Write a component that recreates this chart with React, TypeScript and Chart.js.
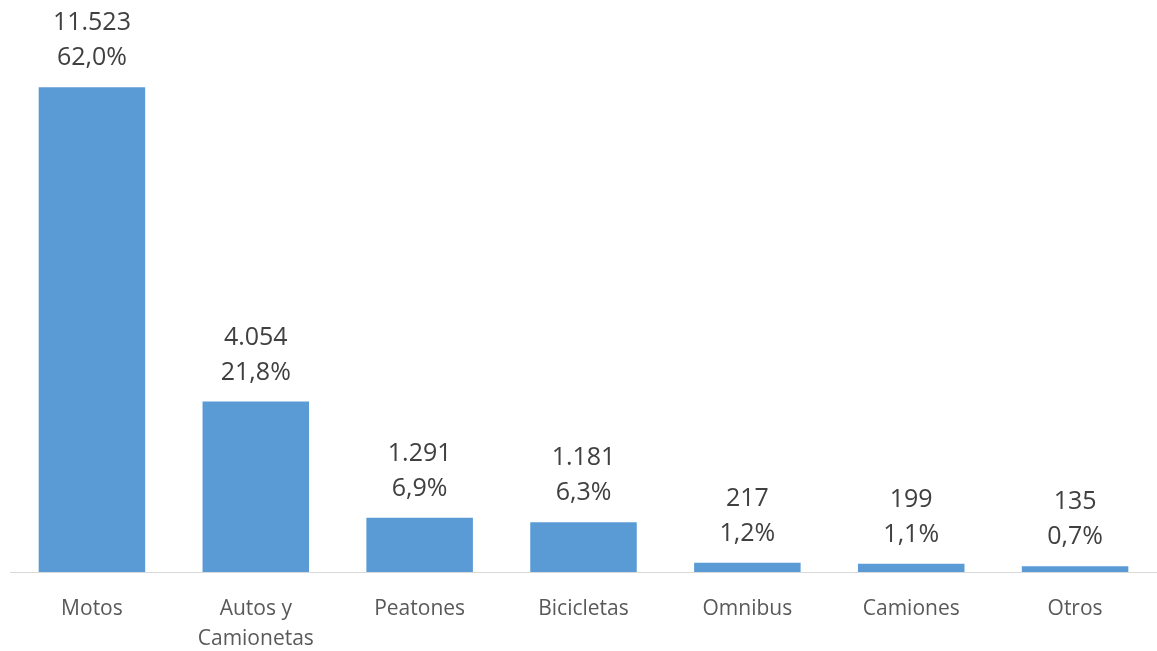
import React, { useEffect, useRef } from "react";
import { Chart, registerables } from "chart.js";

Chart.register(...registerables);

const categories: (string | string[])[] = [
  "Motos",
  ["Autos y", "Camionetas"],
  "Peatones",
  "Bicicletas",
  "Omnibus",
  "Camiones",
  "Otros",
];
const values: number[] = [11523, 4054, 1291, 1181, 217, 199, 135];
const percents: string[] = ["62,0%", "21,8%", "6,9%", "6,3%", "1,2%", "1,1%", "0,7%"];

const fmt = (v: number) => v.toString().replace(/\B(?=(\d{3})+(?!\d))/g, ".");

const labelPlugin = {
  id: "twoLineLabels",
  afterDatasetsDraw(chart: any) {
    const ctx = chart.ctx;
    const meta = chart.getDatasetMeta(0);
    ctx.save();
    ctx.fillStyle = "#404040";
    ctx.font = "25px 'Open Sans'";
    ctx.textAlign = "center";
    ctx.textBaseline = "middle";
    meta.data.forEach((bar: any, i: number) => {
      const x = bar.x;
      const y = bar.y;
      ctx.fillText(fmt(values[i]), x, y - 64);
      ctx.fillText(percents[i], x, y - 29);
    });
    ctx.restore();
  },
};

export default function App() {
  const ref = useRef<HTMLCanvasElement | null>(null);
  useEffect(() => {
    if (!ref.current) return;
    const chart = new Chart(ref.current, {
      type: "bar",
      data: {
        labels: categories,
        datasets: [
          {
            data: values,
            backgroundColor: "#5b9bd5",
            barPercentage: 0.65,
            categoryPercentage: 1,
          },
        ],
      },
      options: {
        animation: false,
        responsive: false,
        maintainAspectRatio: false,
        layout: { padding: { top: 25, left: 10, right: 0, bottom: 0 } },
        plugins: { legend: { display: false }, tooltip: { enabled: false } },
        scales: {
          x: {
            grid: { display: false, drawTicks: false },
            border: { display: true, color: "#d9d9d9", width: 1 },
            ticks: {
              color: "#595959",
              font: { family: "'Open Sans'", size: 21, lineHeight: 1.43 },
              padding: 22,
              maxRotation: 0,
              autoSkip: false,
            },
            afterFit: (scale: any) => {
              scale.height = 79;
            },
          },
          y: {
            display: false,
            min: 0,
            max: 13000,
          },
        },
      },
      plugins: [labelPlugin],
    });
    return () => chart.destroy();
  }, []);
  return (
    <div style={{ position: "fixed", left: 0, top: 0, width: 1157, height: 651, background: "#fff" }}>
      <canvas ref={ref} width={1157} height={651} style={{ display: "block" }} />
    </div>
  );
}
